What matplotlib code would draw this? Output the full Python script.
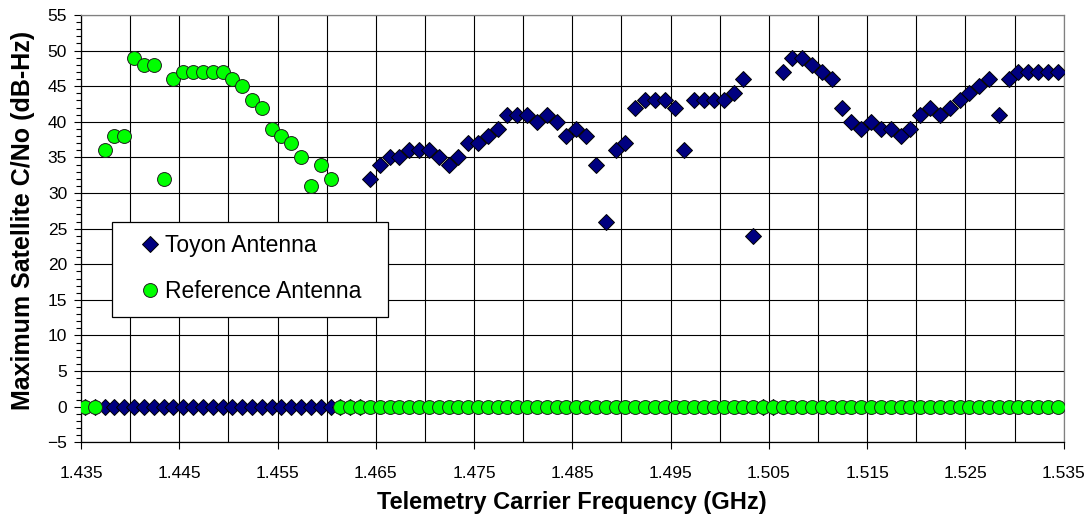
import matplotlib.pyplot as plt
from matplotlib.patches import Rectangle
from matplotlib.ticker import MultipleLocator, FixedLocator

plt.rcParams['font.family'] = ['Liberation Sans', 'DejaVu Sans']

# Canales de telemetria (MHz)
frecuencias_mhz = [
    1435.4, 1436.4, 1437.4, 1438.4, 1439.4, 1440.4, 1441.4, 1442.4, 1443.4, 1444.4,
    1445.4, 1446.4, 1447.4, 1448.4, 1449.4, 1450.4, 1451.4, 1452.4, 1453.4, 1454.4,
    1455.4, 1456.4, 1457.4, 1458.4, 1459.4, 1460.4, 1461.4, 1462.4, 1463.4, 1464.4,
    1465.4, 1466.4, 1467.4, 1468.4, 1469.4, 1470.4, 1471.4, 1472.4, 1473.4, 1474.4,
    1475.4, 1476.4, 1477.4, 1478.4, 1479.4, 1480.4, 1481.4, 1482.4, 1483.4, 1484.4,
    1485.4, 1486.4, 1487.4, 1488.4, 1489.4, 1490.4, 1491.4, 1492.4, 1493.4, 1494.4,
    1495.4, 1496.4, 1497.4, 1498.4, 1499.4, 1500.4, 1501.4, 1502.4, 1503.4, 1504.4,
    1505.4, 1506.4, 1507.4, 1508.4, 1509.4, 1510.4, 1511.4, 1512.4, 1513.4, 1514.4,
    1515.4, 1516.4, 1517.4, 1518.4, 1519.4, 1520.4, 1521.4, 1522.4, 1523.4, 1524.4,
    1525.4, 1526.4, 1527.4, 1528.4, 1529.4, 1530.4, 1531.4, 1532.4, 1533.4, 1534.4,
]
frecuencias = [f / 1000.0 for f in frecuencias_mhz]

# C/No maximo (dB-Hz), 0 = sin medicion
cn0_toyon = [
    0, 0, 0, 0, 0, 0, 0, 0, 0, 0,
    0, 0, 0, 0, 0, 0, 0, 0, 0, 0,
    0, 0, 0, 0, 0, 0, 0, 0, 0, 32,
    34, 35, 35, 36, 36, 36, 35, 34, 35, 37,
    37, 38, 39, 41, 41, 41, 40, 41, 40, 38,
    39, 38, 34, 26, 36, 37, 42, 43, 43, 43,
    42, 36, 43, 43, 43, 43, 44, 46, 24, 0,
    0, 47, 49, 49, 48, 47, 46, 42, 40, 39,
    40, 39, 39, 38, 39, 41, 42, 41, 42, 43,
    44, 45, 46, 41, 46, 47, 47, 47, 47, 47,
]
cn0_referencia = [
    0, 0, 36, 38, 38, 49, 48, 48, 32, 46,
    47, 47, 47, 47, 47, 46, 45, 43, 42, 39,
    38, 37, 35, 31, 34, 32, 0, 0, 0, 0,
    0, 0, 0, 0, 0, 0, 0, 0, 0, 0,
    0, 0, 0, 0, 0, 0, 0, 0, 0, 0,
    0, 0, 0, 0, 0, 0, 0, 0, 0, 0,
    0, 0, 0, 0, 0, 0, 0, 0, 0, 0,
    0, 0, 0, 0, 0, 0, 0, 0, 0, 0,
    0, 0, 0, 0, 0, 0, 0, 0, 0, 0,
    0, 0, 0, 0, 0, 0, 0, 0, 0, 0,
]

etiquetas_x = ['1.435', '1.445', '1.455', '1.465', '1.475', '1.485',
               '1.495', '1.505', '1.515', '1.525', '1.535']

W, H = 1091, 524


def generar_grafico():
    fig = plt.figure(figsize=(W / 100, H / 100), dpi=100)
    ax = fig.add_axes([81 / W, 1 - 442.3 / H, (1063.7 - 81) / W, (442.3 - 15) / H])

    toyon, = ax.plot(frecuencias, cn0_toyon, linestyle='none', marker='D', markersize=8,
                     markerfacecolor='#000080', markeredgecolor='black',
                     markeredgewidth=0.7, label='Toyon Antenna', zorder=3)
    refe, = ax.plot(frecuencias, cn0_referencia, linestyle='none', marker='o', markersize=10,
                    markerfacecolor='#00FF00', markeredgecolor='#202020',
                    markeredgewidth=0.7, label='Reference Antenna', zorder=4)

    ax.set_xlim(1.435, 1.535)
    ax.set_ylim(-5, 55)

    ticks_x = [float(t) for t in etiquetas_x]
    ax.xaxis.set_major_locator(FixedLocator(ticks_x))
    ax.set_xticklabels(etiquetas_x)
    ax.xaxis.set_minor_locator(FixedLocator([t + 0.005 for t in ticks_x[:-1]]))
    ax.yaxis.set_major_locator(MultipleLocator(5))
    ax.yaxis.set_minor_locator(MultipleLocator(1))

    ax.tick_params(axis='x', which='major', direction='out', length=5, width=0.8,
                   labelsize=12.5, pad=12)
    ax.tick_params(axis='x', which='minor', length=0)
    ax.tick_params(axis='y', which='major', direction='out', length=5, width=0.8,
                   labelsize=12.5, pad=5)
    ax.tick_params(axis='y', which='minor', direction='out', length=3.5, width=0.8)

    # Cuadricula horizontal cada 5 y vertical cada 0.005
    ax.grid(True, which='major', axis='both', color='black', linewidth=0.8)
    ax.grid(True, which='minor', axis='x', color='black', linewidth=0.8)
    ax.set_axisbelow(True)

    ax.spines['left'].set_color('black')
    ax.spines['bottom'].set_color('black')
    ax.spines['top'].set_color('#808080')
    ax.spines['right'].set_color('#808080')
    for s in ax.spines.values():
        s.set_linewidth(0.9)

    fig.text(572 / W, 1 - 503 / H, 'Telemetry Carrier Frequency (GHz)',
             ha='center', va='center', fontsize=17, fontweight='bold')
    fig.text(23 / W, 1 - 220 / H, 'Maximum Satellite C/No (dB-Hz)',
             ha='center', va='center', rotation=90, fontsize=18, fontweight='bold')

    # Caja de la leyenda (dibujada aparte para controlar margenes)
    caja = Rectangle((111.7 / W, 1 - 317.3 / H), 276.6 / W, 95.6 / H,
                     transform=fig.transFigure, facecolor='white',
                     edgecolor='black', linewidth=0.9, zorder=4)
    fig.add_artist(caja)
    leg = fig.legend([toyon, refe], ['Toyon Antenna', 'Reference Antenna'],
                     loc='upper left', bbox_to_anchor=(138.5 / W, 1 - 234 / H),
                     bbox_transform=fig.transFigure, frameon=False,
                     fontsize=16.5, borderpad=0, borderaxespad=0,
                     handlelength=1.0, handletextpad=0.16, labelspacing=1.0)
    leg.set_zorder(6)

    fig.savefig('out.png', dpi=100)


if __name__ == '__main__':
    generar_grafico()
